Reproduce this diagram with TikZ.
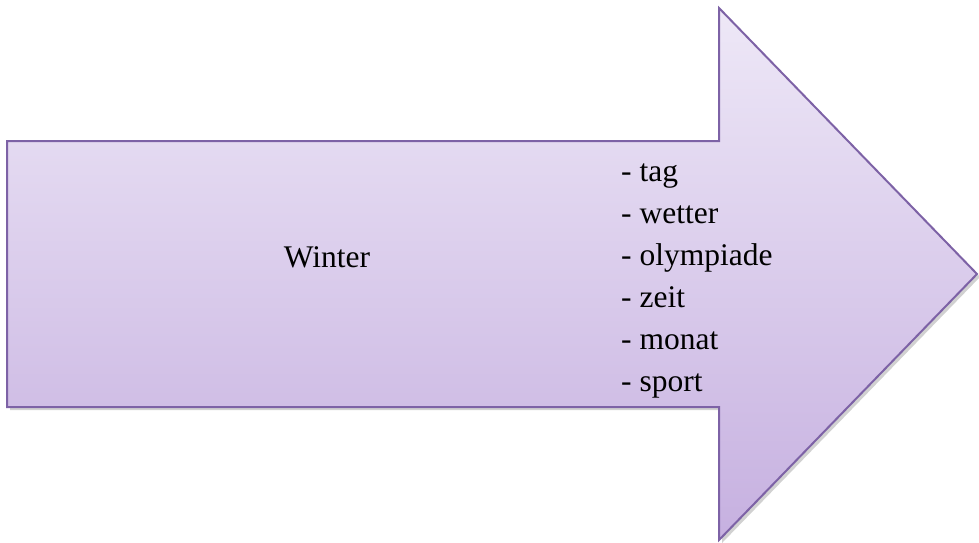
\documentclass[tikz,border=0pt]{standalone}
\usepackage{fontspec}
\setmainfont{Liberation Serif}
\definecolor{arrowline}{HTML}{7D62A6}
\definecolor{arrowtop}{HTML}{EEE8F7}
\definecolor{arrowbot}{HTML}{C6B0E0}
\tikzset{
  txt/.style={inner sep=0pt, font=\fontsize{31.5}{38}\selectfont, text=black},
  bigarrow/.style={draw=arrowline, line width=2pt, line join=miter, top color=arrowtop, bottom color=arrowbot},
}
\begin{document}
\begin{tikzpicture}[x=1pt,y=-1pt]
\useasboundingbox (0,0) rectangle (979,542);
% shadow
\fill[black, opacity=0.18, xshift=3pt, yshift=-3pt]
  (7,141) -- (719,141) -- (719,8) -- (977,274) -- (719,540) -- (719,407) -- (7,407) -- cycle;
% arrow
\path[bigarrow]
  (7,141) -- (719,141) -- (719,8) -- (977,274) -- (719,540) -- (719,407) -- (7,407) -- cycle;
\node[txt, anchor=base] (winter) at (327,267) {Winter};
\node[txt, anchor=base west] (l1) at (621,181) {- tag};
\node[txt, anchor=base west] (l2) at (621,223) {- wetter};
\node[txt, anchor=base west] (l3) at (621,265) {- olympiade};
\node[txt, anchor=base west] (l4) at (621,307) {- zeit};
\node[txt, anchor=base west] (l5) at (621,349) {- monat};
\node[txt, anchor=base west] (l6) at (621,391) {- sport};
\end{tikzpicture}
\end{document}
